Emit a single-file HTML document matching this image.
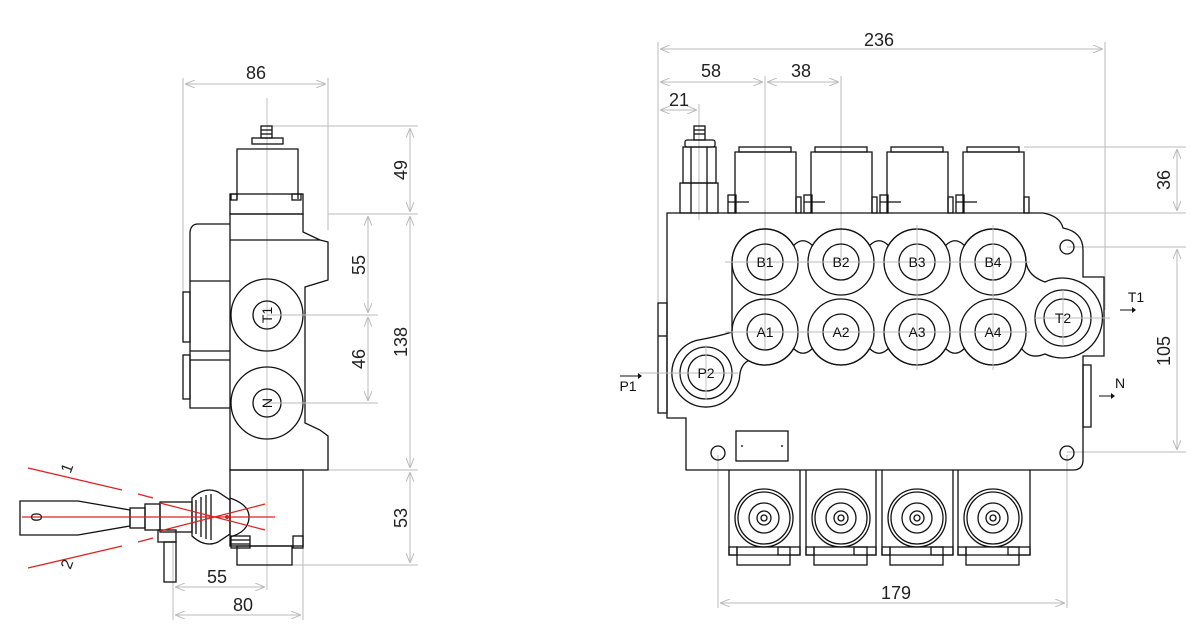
<!DOCTYPE html>
<html><head><meta charset="utf-8"><style>
html,body{margin:0;padding:0;background:#fff;}
svg{display:block;font-family:"Liberation Sans",sans-serif;}
.o{fill:none;stroke:#111;stroke-width:1.3}
.d{fill:none;stroke:#bbb;stroke-width:1}
.c{fill:none;stroke:#bbb;stroke-width:0.9}
.r{fill:none;stroke:#e02020;stroke-width:1.2}
.t{font-size:18px;fill:#222}
.p{font-size:14px;fill:#111}
</style></head><body>
<svg width="1202" height="634" viewBox="0 0 1202 634">
<defs>
<marker id="a" markerWidth="10" markerHeight="8" refX="10" refY="4" orient="auto-start-reverse" markerUnits="userSpaceOnUse"><path d="M0,0 L10,4 L0,8" fill="none" stroke="#bbb" stroke-width="1"/></marker>
</defs>

<!-- ===== LEFT VIEW ===== -->
<line class="d" x1="183" y1="78" x2="183" y2="300"/>
<line class="d" x1="328" y1="78" x2="328" y2="230"/>
<line class="d" x1="185" y1="84" x2="326" y2="84" marker-start="url(#a)" marker-end="url(#a)"/>
<text class="t" x="256" y="79" text-anchor="middle">86</text>
<line class="c" x1="267" y1="98" x2="267" y2="590"/>
<line class="d" x1="272" y1="126" x2="418" y2="126"/>
<line class="d" x1="328" y1="214" x2="418" y2="214"/>
<line class="d" x1="300" y1="315" x2="378" y2="315"/>
<line class="d" x1="300" y1="403" x2="378" y2="403"/>
<line class="d" x1="328" y1="470" x2="418" y2="470"/>
<line class="d" x1="292" y1="565" x2="418" y2="565"/>
<line class="d" x1="410" y1="128" x2="410" y2="212" marker-start="url(#a)" marker-end="url(#a)"/>
<line class="d" x1="410" y1="216" x2="410" y2="468" marker-start="url(#a)" marker-end="url(#a)"/>
<line class="d" x1="410" y1="472" x2="410" y2="563" marker-start="url(#a)" marker-end="url(#a)"/>
<line class="d" x1="368" y1="216" x2="368" y2="313" marker-start="url(#a)" marker-end="url(#a)"/>
<line class="d" x1="368" y1="317" x2="368" y2="401" marker-start="url(#a)" marker-end="url(#a)"/>
<text class="t" transform="translate(407,170) rotate(-90)" text-anchor="middle">49</text>
<text class="t" transform="translate(365,265) rotate(-90)" text-anchor="middle">55</text>
<text class="t" transform="translate(365,359) rotate(-90)" text-anchor="middle">46</text>
<text class="t" transform="translate(407,342) rotate(-90)" text-anchor="middle">138</text>
<text class="t" transform="translate(407,518) rotate(-90)" text-anchor="middle">53</text>
<line class="d" x1="173" y1="540" x2="173" y2="620"/>
<line class="d" x1="303" y1="545" x2="303" y2="620"/>
<line class="d" x1="175" y1="587" x2="265" y2="587" marker-start="url(#a)" marker-end="url(#a)"/>
<line class="d" x1="175" y1="615" x2="301" y2="615" marker-start="url(#a)" marker-end="url(#a)"/>
<text class="t" x="217" y="583" text-anchor="middle">55</text>
<text class="t" x="243" y="611" text-anchor="middle">80</text>

<rect class="o" x="261" y="126" width="11" height="12"/>
<line class="o" x1="261" y1="130" x2="272" y2="130"/><line class="o" x1="261" y1="134" x2="272" y2="134"/>
<rect class="o" x="252" y="138" width="31" height="6"/>
<path class="o" d="M237,199 V149 H298 V199"/>
<rect class="o" x="230" y="194" width="73" height="20"/>
<rect class="o" x="231" y="194" width="6" height="6"/><rect class="o" x="292" y="194" width="9" height="6"/>
<path class="o" d="M230,214 H303 V232 L320,240 L328,242 V280 L305,287 V423 L320,430 L328,436 V470 H230 Z"/>
<line class="o" x1="230" y1="240" x2="320" y2="240"/>
<path class="o" d="M230,224 H198 Q191,224 190,232 V408 H230"/>
<line class="o" x1="190" y1="281" x2="230" y2="281"/>
<line class="o" x1="190" y1="351" x2="230" y2="351"/>
<line class="o" x1="190" y1="360" x2="230" y2="360"/>
<rect class="o" x="183" y="292" width="7" height="50"/>
<rect class="o" x="183" y="355" width="7" height="44"/>
<circle class="o" cx="267" cy="315" r="36"/><circle class="o" cx="267" cy="315" r="14"/>
<circle class="o" cx="267" cy="403" r="36"/><circle class="o" cx="267" cy="403" r="14"/>
<line class="c" x1="267" y1="315" x2="378" y2="315"/><line class="c" x1="267" y1="403" x2="378" y2="403"/>
<text class="p" transform="translate(272,315) rotate(-90)" text-anchor="middle">T1</text>
<text class="p" transform="translate(272,403) rotate(-90)" text-anchor="middle">N</text>
<rect class="o" x="230" y="470" width="73" height="76"/>
<rect class="o" x="237" y="546" width="55" height="19"/>
<rect class="o" x="231" y="536" width="19" height="12"/><rect class="o" x="293" y="536" width="10" height="12"/>
<line class="o" x1="231" y1="540" x2="250" y2="540"/><line class="o" x1="231" y1="544" x2="250" y2="544"/>

<!-- lever -->
<path class="o" d="M20,501 H78 L130,510 V526 L78,535 H20 Z"/>
<rect class="o" x="130" y="508" width="15" height="20"/>
<rect class="o" x="145" y="504" width="15" height="26"/>
<rect class="o" x="160" y="502" width="32" height="30"/>
<rect class="o" x="158" y="530" width="18" height="12"/>
<rect class="o" x="164" y="542" width="12" height="40"/>
<path class="o" d="M192,498 Q205,486 218,492 L230,500 V534 L218,542 Q205,548 192,536 Z"/>
<line class="o" x1="196" y1="500" x2="196" y2="534"/><line class="o" x1="201" y1="497" x2="201" y2="537"/>
<line class="o" x1="206" y1="495" x2="206" y2="539"/><line class="o" x1="211" y1="494" x2="211" y2="540"/>
<path class="o" d="M230,498 Q250,505 249,518 Q248,532 230,537"/>
<line class="r" x1="22" y1="517" x2="275" y2="517"/>
<line class="r" x1="28" y1="468" x2="122" y2="490"/>
<line class="r" x1="138" y1="494" x2="153" y2="498"/>
<line class="r" x1="28" y1="568" x2="122" y2="546"/>
<line class="r" x1="138" y1="542" x2="153" y2="538"/>
<line class="r" x1="160" y1="503" x2="265" y2="530"/>
<line class="r" x1="160" y1="531" x2="265" y2="504"/>
<circle cx="227" cy="517" r="2" fill="#e02020"/>
<text class="t" transform="translate(72,470) rotate(-70)" text-anchor="middle" style="font-size:16px">1</text>
<text class="t" transform="translate(72,566) rotate(-70)" text-anchor="middle" style="font-size:16px">2</text>
<text class="t" transform="translate(42,517) rotate(-90)" text-anchor="middle" style="font-size:16px">0</text>

<!-- ===== RIGHT VIEW ===== -->
<line class="d" x1="658" y1="42" x2="658" y2="303"/>
<line class="d" x1="1105" y1="42" x2="1105" y2="310"/>
<line class="d" x1="765" y1="76" x2="765" y2="350"/>
<line class="d" x1="841" y1="76" x2="841" y2="262"/>
<line class="d" x1="699" y1="104" x2="699" y2="220"/>
<line class="d" x1="660" y1="49" x2="1103" y2="49" marker-start="url(#a)" marker-end="url(#a)"/>
<line class="d" x1="660" y1="82" x2="763" y2="82" marker-start="url(#a)" marker-end="url(#a)"/>
<line class="d" x1="767" y1="82" x2="839" y2="82" marker-start="url(#a)" marker-end="url(#a)"/>
<line class="d" x1="660" y1="110" x2="697" y2="110" marker-start="url(#a)" marker-end="url(#a)"/>
<text class="t" x="879" y="46" text-anchor="middle">236</text>
<text class="t" x="711" y="77" text-anchor="middle">58</text>
<text class="t" x="801" y="77" text-anchor="middle">38</text>
<text class="t" x="679" y="106" text-anchor="middle">21</text>
<line class="d" x1="1024" y1="147" x2="1186" y2="147"/>
<line class="d" x1="1043" y1="213" x2="1186" y2="213"/>
<line class="d" x1="1067" y1="247" x2="1186" y2="247"/>
<line class="d" x1="1067" y1="452" x2="1186" y2="452"/>
<line class="d" x1="1177" y1="149" x2="1177" y2="211" marker-start="url(#a)" marker-end="url(#a)"/>
<line class="d" x1="1177" y1="249" x2="1177" y2="450" marker-start="url(#a)" marker-end="url(#a)"/>
<text class="t" transform="translate(1170,180) rotate(-90)" text-anchor="middle">36</text>
<text class="t" transform="translate(1170,351) rotate(-90)" text-anchor="middle">105</text>
<line class="d" x1="718" y1="455" x2="718" y2="608"/>
<line class="d" x1="1067" y1="455" x2="1067" y2="608"/>
<line class="d" x1="720" y1="603" x2="1065" y2="603" marker-start="url(#a)" marker-end="url(#a)"/>
<text class="t" x="896" y="599" text-anchor="middle">179</text>

<!-- stud -->
<rect class="o" x="694" y="126" width="11" height="14"/>
<line class="o" x1="694" y1="130" x2="705" y2="130"/><line class="o" x1="694" y1="134" x2="705" y2="134"/>
<rect class="o" x="685" y="140" width="30" height="7" rx="2"/>
<rect class="o" x="683" y="147" width="33" height="36"/>
<rect class="o" x="680" y="183" width="38" height="30"/>
<line class="o" x1="691" y1="147" x2="691" y2="213"/><line class="o" x1="707" y1="147" x2="707" y2="213"/>

<!-- caps -->
<g>
<path class="o" d="M735,213 V152 H796 V213"/><rect class="o" x="739" y="147" width="52" height="5"/>
<rect class="o" x="728" y="195" width="8" height="18"/><line class="o" x1="728" y1="202" x2="749" y2="202"/><rect class="o" x="796" y="197" width="5" height="16"/>
<path class="o" d="M811,213 V152 H872 V213"/><rect class="o" x="815" y="147" width="52" height="5"/>
<rect class="o" x="804" y="195" width="8" height="18"/><line class="o" x1="804" y1="202" x2="825" y2="202"/><rect class="o" x="872" y="197" width="5" height="16"/>
<path class="o" d="M887,213 V152 H948 V213"/><rect class="o" x="891" y="147" width="52" height="5"/>
<rect class="o" x="880" y="195" width="8" height="18"/><line class="o" x1="880" y1="202" x2="901" y2="202"/><rect class="o" x="948" y="197" width="5" height="16"/>
<path class="o" d="M963,213 V152 H1024 V213"/><rect class="o" x="967" y="147" width="52" height="5"/>
<rect class="o" x="956" y="195" width="8" height="18"/><line class="o" x1="956" y1="202" x2="977" y2="202"/><rect class="o" x="1024" y="197" width="5" height="16"/>
</g>

<!-- main body -->
<path class="o" d="M667,213 H1043 Q1060,216 1063,228 Q1083,232 1083,250 V277 H1104 V356 H1083 V460 Q1083,470 1073,470 H686 V418 H667 Z"/>
<rect class="o" x="658" y="303" width="9" height="110"/>
<line class="o" x1="658" y1="336" x2="667" y2="336"/>
<rect class="o" x="1083" y="365" width="8" height="62"/>
<!-- blob outline -->
<path class="o" d="M732,262 A33,33 0 0 1 793.6,245.5 Q803,236 812.4,245.5 A33,33 0 0 1 869.6,245.5 Q879,236 888.4,245.5 A33,33 0 0 1 945.6,245.5 Q955,236 964.4,245.5 A33,33 0 0 1 1026,262 Q1028,276 1045,282 A40,40 0 1 1 1045,354 Q1030,360 1021.6,348.5 A33,33 0 0 1 964.4,348.5 Q955,358 945.6,348.5 A33,33 0 0 1 888.4,348.5 Q879,358 869.6,348.5 A33,33 0 0 1 812.4,348.5 Q803,358 793.6,348.5 A33,33 0 0 1 748.5,360.6 Q740,365 739.5,378 A34,34 0 1 1 696,340.5 Q720,336 732,332 Z"/>
<!-- ports -->
<g>
<circle class="o" cx="765" cy="262" r="33"/><circle class="o" cx="765" cy="262" r="18"/>
<circle class="o" cx="841" cy="262" r="33"/><circle class="o" cx="841" cy="262" r="18"/>
<circle class="o" cx="917" cy="262" r="33"/><circle class="o" cx="917" cy="262" r="18"/>
<circle class="o" cx="993" cy="262" r="33"/><circle class="o" cx="993" cy="262" r="18"/>
<circle class="o" cx="765" cy="332" r="33"/><circle class="o" cx="765" cy="332" r="18"/>
<circle class="o" cx="841" cy="332" r="33"/><circle class="o" cx="841" cy="332" r="18"/>
<circle class="o" cx="917" cy="332" r="33"/><circle class="o" cx="917" cy="332" r="18"/>
<circle class="o" cx="993" cy="332" r="33"/><circle class="o" cx="993" cy="332" r="18"/>
<circle class="o" cx="1063" cy="318" r="28"/><circle class="o" cx="1063" cy="318" r="19"/>
<circle class="o" cx="706" cy="373" r="26"/><circle class="o" cx="706" cy="373" r="18"/>
<circle class="o" cx="1067" cy="247" r="7"/><circle class="o" cx="718" cy="453" r="7"/><circle class="o" cx="1067" cy="453" r="7"/>
</g>
<g>
<line class="c" x1="725" y1="262" x2="1030" y2="262"/><line class="c" x1="725" y1="332" x2="1030" y2="332"/>
<line class="c" x1="917" y1="225" x2="917" y2="370"/><line class="c" x1="993" y1="225" x2="993" y2="370"/>
<line class="c" x1="1035" y1="318" x2="1110" y2="318"/><line class="c" x1="1063" y1="290" x2="1063" y2="346"/>
<line class="c" x1="640" y1="373" x2="738" y2="373"/><line class="c" x1="706" y1="345" x2="706" y2="400"/>
</g>
<text class="p" x="765" y="267" text-anchor="middle">B1</text>
<text class="p" x="841" y="267" text-anchor="middle">B2</text>
<text class="p" x="917" y="267" text-anchor="middle">B3</text>
<text class="p" x="993" y="267" text-anchor="middle">B4</text>
<text class="p" x="765" y="337" text-anchor="middle">A1</text>
<text class="p" x="841" y="337" text-anchor="middle">A2</text>
<text class="p" x="917" y="337" text-anchor="middle">A3</text>
<text class="p" x="993" y="337" text-anchor="middle">A4</text>
<text class="p" x="1063" y="323" text-anchor="middle">T2</text>
<text class="p" x="706" y="378" text-anchor="middle">P2</text>
<rect class="o" x="736" y="431" width="52" height="30"/>
<circle cx="742" cy="446" r="1" fill="#333"/><circle cx="782" cy="446" r="1" fill="#333"/>

<text class="p" x="628" y="391" text-anchor="middle">P1</text>
<line x1="620" y1="376" x2="638" y2="376" stroke="#111" stroke-width="1"/><path d="M638,373 L642,376 L638,379Z" fill="#111"/>
<text class="p" x="1136" y="302" text-anchor="middle">T1</text>
<line x1="1120" y1="310" x2="1132" y2="310" stroke="#111" stroke-width="1"/><path d="M1132,307 L1136,310 L1132,313Z" fill="#111"/>
<text class="p" x="1120" y="388" text-anchor="middle">N</text>
<line x1="1099" y1="396" x2="1111" y2="396" stroke="#111" stroke-width="1"/><path d="M1111,393 L1115,396 L1111,399Z" fill="#111"/>

<!-- bottom caps -->
<g>
<path class="o" d="M729,470 V555 H800 V470"/><rect class="o" x="737" y="547" width="53" height="18"/>
<rect class="o" x="729" y="547" width="8" height="8"/><rect class="o" x="778" y="547" width="22" height="8"/>
<circle class="o" cx="764" cy="518" r="29"/><circle class="o" cx="764" cy="518" r="26"/><circle class="o" cx="764" cy="518" r="15"/><circle class="o" cx="764" cy="518" r="7"/><circle class="o" cx="764" cy="518" r="3"/>
<path class="o" d="M806,470 V555 H876 V470"/><rect class="o" x="814" y="547" width="53" height="18"/>
<rect class="o" x="806" y="547" width="8" height="8"/><rect class="o" x="854" y="547" width="22" height="8"/>
<circle class="o" cx="841" cy="518" r="29"/><circle class="o" cx="841" cy="518" r="26"/><circle class="o" cx="841" cy="518" r="15"/><circle class="o" cx="841" cy="518" r="7"/><circle class="o" cx="841" cy="518" r="3"/>
<path class="o" d="M882,470 V555 H953 V470"/><rect class="o" x="890" y="547" width="53" height="18"/>
<rect class="o" x="882" y="547" width="8" height="8"/><rect class="o" x="931" y="547" width="22" height="8"/>
<circle class="o" cx="917" cy="518" r="29"/><circle class="o" cx="917" cy="518" r="26"/><circle class="o" cx="917" cy="518" r="15"/><circle class="o" cx="917" cy="518" r="7"/><circle class="o" cx="917" cy="518" r="3"/>
<path class="o" d="M958,470 V555 H1030 V470"/><rect class="o" x="966" y="547" width="53" height="18"/>
<rect class="o" x="958" y="547" width="8" height="8"/><rect class="o" x="1008" y="547" width="22" height="8"/>
<circle class="o" cx="993" cy="518" r="29"/><circle class="o" cx="993" cy="518" r="26"/><circle class="o" cx="993" cy="518" r="15"/><circle class="o" cx="993" cy="518" r="7"/><circle class="o" cx="993" cy="518" r="3"/>
</g>
</svg>
</body></html>
